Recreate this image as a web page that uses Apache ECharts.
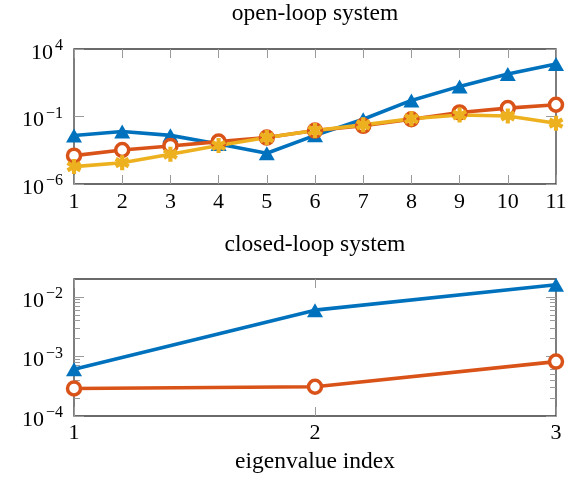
<!DOCTYPE html>
<html>
<head>
<meta charset="utf-8">
<script src="https://cdn.jsdelivr.net/npm/echarts@6/dist/echarts.min.js"></script>
<style>html,body{margin:0;padding:0;background:#fff;}#c{width:580px;height:480px;}</style>
</head>
<body>
<div id="c"></div>
<script>
// ---- data ----
const openIndex = [1, 2, 3, 4, 5, 6, 7, 8, 9, 10, 11];
const openBlue   = [3.9e-3, 7.8e-3, 4.0e-3, 9.3e-4, 1.9e-4, 4.0e-3, 6.3e-2, 1.55, 17, 138, 776];
const openOrange = [1.26e-4, 3.3e-4, 6.6e-4, 1.38e-3, 2.75e-3, 9.1e-3, 2.04e-2, 6.3e-2, 0.2, 0.42, 0.74];
const openYellow = [1.95e-5, 3.8e-5, 1.6e-4, 7.1e-4, 2.75e-3, 9.1e-3, 2.4e-2, 6.8e-2, 0.13, 0.11, 3.2e-2];
const openYTicks = [1e-6, 1e-1, 1e4];

const closedIndex = [1, 2, 3];
const closedBlue   = [6.1e-4, 6.0e-3, 1.6e-2];
const closedOrange = [2.9e-4, 3.1e-4, 8.2e-4];
const closedYTicks = [1e-4, 1e-3, 1e-2];
const closedYMinor = [2e-4, 3e-4, 4e-4, 5e-4, 6e-4, 7e-4, 8e-4, 9e-4,
                      2e-3, 3e-3, 4e-3, 5e-3, 6e-3, 7e-3, 8e-3, 9e-3];

const titles = ['open-loop system', 'closed-loop system'];
const xName = 'eigenvalue index';

// ---- style ----
const FONT = '"Liberation Serif", "Times New Roman", serif';
const BLUE = '#0072BD', ORANGE = '#D95319', YELLOW = '#EDB120';
const TICK = '#9a9a9a', BORDER = '#3a3a3a';
const LW = 3.6;

function pairs(xs, ys) { return xs.map((x, i) => [x, ys[i]]); }

function asteriskPath() {
  const L = 10, w = 2.8; let p = '';
  [90, 30, -30].forEach(deg => {
    const t = deg * Math.PI / 180, dx = Math.cos(t), dy = Math.sin(t), nx = -dy, ny = dx;
    const pts = [[L*dx + w*nx, L*dy + w*ny], [L*dx - w*nx, L*dy - w*ny],
                 [-L*dx - w*nx, -L*dy - w*ny], [-L*dx + w*nx, -L*dy + w*ny]];
    p += 'M' + pts.map(q => q[0].toFixed(2) + ' ' + q[1].toFixed(2)).join('L') + 'Z';
  });
  return 'path://' + p;
}
const ASTER = asteriskPath();

function powLabel(v) {
  const e = Math.round(Math.log10(v));
  return '{b|10}{s|' + (e < 0 ? '\u2212' + (-e) : String(e)) + '}';
}
const powRich = {
  b: { fontFamily: FONT, fontSize: 22, color: '#000', padding: [8, 0, 0, 0] },
  s: { fontFamily: FONT, fontSize: 16, color: '#000', padding: [0, 0, 6, 2] }
};

function xAxisPair(grid, min, max, labelMargin, name) {
  const common = {
    type: 'value', gridIndex: grid, min: min, max: max, interval: 1,
    axisLine: { show: false }, splitLine: { show: false },
    axisTick: { show: true, inside: true, length: 9, lineStyle: { color: TICK, width: 1 } }
  };
  const bottom = Object.assign({}, common, {
    position: 'bottom',
    axisLabel: { show: true, margin: labelMargin, fontFamily: FONT, fontSize: 22, color: '#000' }
  });
  if (name) {
    Object.assign(bottom, { name: name, nameLocation: 'middle', nameGap: 34,
      nameTextStyle: { fontFamily: FONT, fontSize: 23.5, color: '#000' } });
  }
  const top = Object.assign({}, common, { position: 'top', axisLabel: { show: false } });
  return [bottom, top];
}

function yAxis(grid, pos, min, max, ticks, len, labels) {
  return {
    type: 'log', logBase: 10, gridIndex: grid, position: pos, min: min, max: max,
    axisLine: { show: false }, splitLine: { show: false }, minorTick: { show: false },
    axisTick: { show: true, inside: true, length: len, customValues: ticks, lineStyle: { color: TICK, width: 1 } },
    axisLabel: labels ? { show: true, customValues: labels, margin: 11, formatter: powLabel, rich: powRich }
                      : { show: false }
  };
}

const chart = echarts.init(document.getElementById('c'), null, { renderer: 'canvas' });

const gridStyle = { show: true, borderColor: BORDER, borderWidth: 1.3, left: 74, right: 24, outerBoundsMode: 'none', containLabel: false };

const circleStyle = { color: '#ffffff', borderColor: ORANGE, borderWidth: 3.5, opacity: 1 };

const option = {
  animation: false,
  backgroundColor: '#fff',
  title: [
    { text: titles[0], left: 315, top: 2, textAlign: 'center', padding: 0,
      textStyle: { fontFamily: FONT, fontSize: 23.5, fontWeight: 'normal', color: '#000' } },
    { text: titles[1], left: 315, top: 233, textAlign: 'center', padding: 0,
      textStyle: { fontFamily: FONT, fontSize: 23.5, fontWeight: 'normal', color: '#000' } }
  ],
  grid: [
    Object.assign({}, gridStyle, { top: 49, height: 135 }),
    Object.assign({}, gridStyle, { top: 279, height: 137 })
  ],
  xAxis: [].concat(
    xAxisPair(0, 1, 11, 7),
    xAxisPair(1, 1, 3, 6, xName)
  ),
  yAxis: [
    yAxis(0, 'left', 1e-6, 1e4, openYTicks, 10, openYTicks),
    yAxis(0, 'right', 1e-6, 1e4, openYTicks, 10, null),
    yAxis(1, 'left', 1e-4, 2e-2, closedYTicks, 10, closedYTicks),
    yAxis(1, 'left', 1e-4, 2e-2, closedYMinor, 6, null),
    yAxis(1, 'right', 1e-4, 2e-2, closedYTicks, 10, null),
    yAxis(1, 'right', 1e-4, 2e-2, closedYMinor, 6, null)
  ],
  series: [
    { type: 'line', xAxisIndex: 0, yAxisIndex: 0, data: pairs(openIndex, openBlue),
      symbol: 'triangle', symbolSize: [16, 14], lineStyle: { color: BLUE, width: LW }, itemStyle: { color: BLUE } },
    { type: 'line', xAxisIndex: 0, yAxisIndex: 0, data: pairs(openIndex, openOrange),
      symbol: 'circle', symbolSize: 13, lineStyle: { color: ORANGE, width: LW }, itemStyle: circleStyle },
    { type: 'line', xAxisIndex: 0, yAxisIndex: 0, data: pairs(openIndex, openYellow),
      symbol: ASTER, symbolSize: 15, lineStyle: { color: YELLOW, width: LW }, itemStyle: { color: YELLOW } },
    { type: 'line', xAxisIndex: 2, yAxisIndex: 2, data: pairs(closedIndex, closedBlue),
      symbol: 'triangle', symbolSize: [16, 14], lineStyle: { color: BLUE, width: LW }, itemStyle: { color: BLUE } },
    { type: 'line', xAxisIndex: 2, yAxisIndex: 2, data: pairs(closedIndex, closedOrange),
      symbol: 'circle', symbolSize: 13, lineStyle: { color: ORANGE, width: LW }, itemStyle: circleStyle }
  ]
};
option.series.forEach(s => { s.emphasis = { disabled: true }; s.clip = false; s.silent = true; });
chart.setOption(option);
</script>
</body>
</html>
